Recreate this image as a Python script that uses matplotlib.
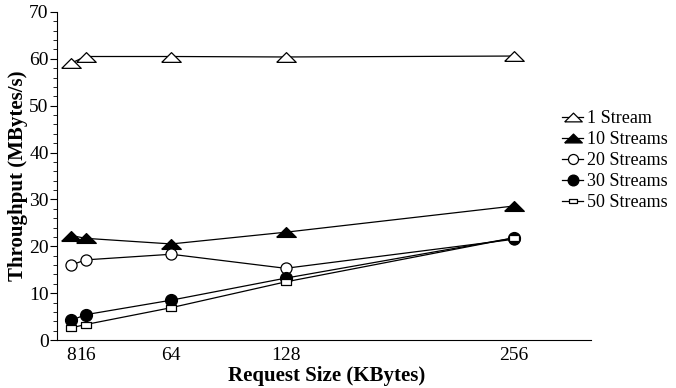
import matplotlib.pyplot as plt
import numpy as np

plt.rcParams['font.family'] = ['Liberation Serif', 'DejaVu Serif']

# request sizes (KBytes)
sizes = [8, 16, 64, 128, 256]
tick_labels = ['8', '16', '64', '128', '256']

# throughput (MBytes/s) per number of streams
s1 = [59.1, 60.5, 60.5, 60.4, 60.6]
s10 = [22.3, 21.7, 20.5, 23.0, 28.6]
s20 = [16.0, 17.1, 18.3, 15.3, 21.5]
s30 = [4.2, 5.4, 8.5, 13.2, 21.8]
s50 = [2.6, 3.3, 6.9, 12.4, 21.8]

fig = plt.figure(figsize=(6.76, 3.88), dpi=100)
ax = fig.add_axes([0.0843, 0.1237, 0.7897, 0.8454])

tri = [(-1, -0.5), (1, -0.5), (0, 0.5), (-1, -0.5)]
rect = [(-1, -0.6), (1, -0.6), (1, 0.6), (-1, 0.6), (-1, -0.6)]
ax.plot(sizes, s1, color='black', lw=0.9, marker=tri, ms=14, mfc='white', mec='black', mew=0.9, label='1 Stream')
ax.plot(sizes, s10, color='black', lw=0.9, marker=tri, ms=14, mfc='black', mec='black', label='10 Streams')
ax.plot(sizes, s20, color='black', lw=0.9, marker='o', ms=8, mfc='white', mec='black', mew=0.9, label='20 Streams')
ax.plot(sizes, s30, color='black', lw=0.9, marker='o', ms=8.5, mfc='black', mec='black', label='30 Streams')
ax.plot(sizes, s50, color='black', lw=0.9, marker=rect, ms=6.5, mfc='white', mec='black', mew=0.9, label='50 Streams')

ax.set_xlim(0, 299)
ax.set_ylim(0, 70)
ax.set_xticks(sizes)
ax.set_xticklabels(tick_labels, fontsize=14)
ax.tick_params(axis='x', length=0, pad=5)
ax.set_yticks(np.arange(0, 71, 10))
ax.set_yticks(np.arange(0, 71, 2), minor=True)
ax.tick_params(axis='y', which='major', length=5, labelsize=14, pad=1)
ax.tick_params(axis='y', which='minor', length=3)
for side in ['top', 'right']:
    ax.spines[side].set_visible(False)

ax.set_xlabel('Request Size (KBytes)', fontsize=15, fontweight='bold')
ax.xaxis.set_label_coords(0.505, -0.08)
ax.set_ylabel('Throughput (MBytes/s)', fontsize=15, fontweight='bold', labelpad=1)

fig.legend(loc='upper left', bbox_to_anchor=(0.831, 0.716), frameon=False, fontsize=13,
           handlelength=1.2, handletextpad=0.2, labelspacing=0.22, markerscale=0.9,
           borderaxespad=0, borderpad=0)

fig.savefig('out.png', dpi=100)
